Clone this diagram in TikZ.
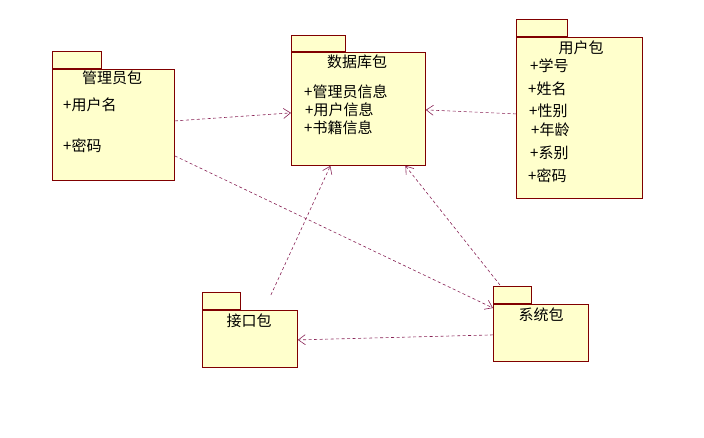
\documentclass[tikz,border=0pt]{standalone}
\usepackage{fontspec}
\setmainfont{Noto Sans CJK SC}
\usepackage{tikz}
\usetikzlibrary{arrows.meta, positioning, calc}
\definecolor{pkgfill}{HTML}{FFFFCC}
\definecolor{pkgline}{HTML}{800000}
\definecolor{deplink}{HTML}{882255}

\begin{document}
\begin{tikzpicture}[x=1pt, y=-1pt, font=\fontsize{15}{17}\selectfont,
  body/.style={draw=pkgline, fill=pkgfill, line width=0.8pt, inner sep=0pt, anchor=north west},
  tab/.style={draw=pkgline, fill=pkgfill, line width=0.8pt, inner sep=0pt, anchor=south west},
  attr/.style={anchor=west, inner sep=0pt},
  dep/.style={draw=deplink, dash pattern=on 3pt off 2.5pt, line width=0.6pt,
    -{Straight Barb[length=7pt, width=10pt]}}]
  \useasboundingbox (0,0) rectangle (704,437);

  % packages
  \node[body, minimum width=122pt, minimum height=111pt] (adm) at (52,69) {};
  \node[tab, minimum width=49pt, minimum height=17pt] (admtab) at (adm.north west) {};
  \node[body, minimum width=134pt, minimum height=113pt] (db) at (291,52) {};
  \node[tab, minimum width=54pt, minimum height=16pt] (dbtab) at (db.north west) {};
  \node[body, minimum width=126pt, minimum height=161pt] (usr) at (516,37) {};
  \node[tab, minimum width=51pt, minimum height=17pt] (usrtab) at (usr.north west) {};
  \node[body, minimum width=95pt, minimum height=57pt] (ifc) at (202,310) {};
  \node[tab, minimum width=38pt, minimum height=17pt] (ifctab) at (ifc.north west) {};
  \node[body, minimum width=95pt, minimum height=57pt] (sys) at (493,304) {};
  \node[tab, minimum width=38pt, minimum height=17pt] (systab) at (sys.north west) {};

  % titles
  \node (admname) at (112,78) {管理员包};
  \node (dbname) at (357,62) {数据库包};
  \node (usrname) at (581,48) {用户包};
  \node (ifcname) at (249,321) {接口包};
  \node (sysname) at (541,315) {系统包};

  % attributes
  \node[attr] (a1) at (63,105) {+用户名};
  \node[attr] (a2) at (63,146) {+密码};
  \node[attr] (d1) at (304,92) {+管理员信息};
  \node[attr] (d2) at (305,110) {+用户信息};
  \node[attr] (d3) at (304,128) {+书籍信息};
  \node[attr] (u1) at (530,66) {+学号};
  \node[attr] (u2) at (528,89) {+姓名};
  \node[attr] (u3) at (529,111) {+性别};
  \node[attr] (u4) at (531,130) {+年龄};
  \node[attr] (u5) at (530,153) {+系别};
  \node[attr] (u6) at (528,176) {+密码};

  % dependencies
  \draw[dep] ([yshift=4pt]adm.east) -- ([yshift=-4pt]db.west);
  \draw[dep] ([yshift=4pt]usr.west) -- ([yshift=-1pt]db.east);
  \draw[dep] ([yshift=-31pt]adm.east) -- ([yshift=-4pt]sys.north west);
  \draw[dep] ([xshift=21pt, yshift=15pt]ifc.north) -- ([xshift=-28pt]db.south);
  \draw[dep] ([xshift=7pt, yshift=19pt]sys.north west) -- ([xshift=47pt]db.south);
  \draw[dep] ([yshift=-2pt]sys.west) -- ([yshift=-1pt]ifc.east);
\end{tikzpicture}
\end{document}
